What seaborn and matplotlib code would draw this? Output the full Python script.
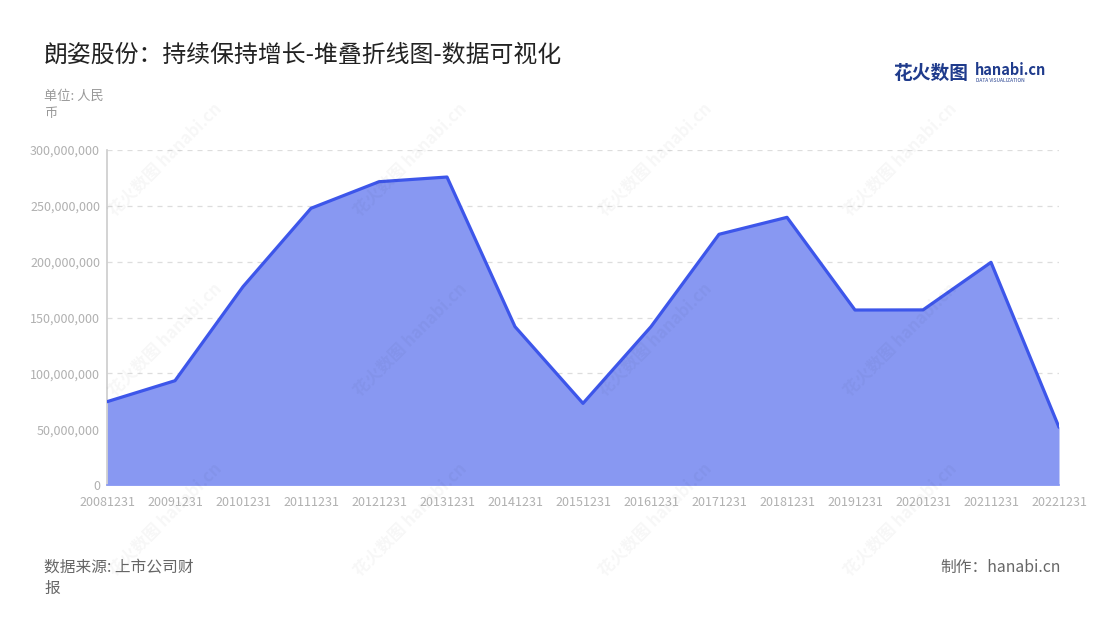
import seaborn as sns
import pandas as pd
import matplotlib.pyplot as plt

dates = ['20081231', '20091231', '20101231', '20111231', '20121231', '20131231', '20141231',
         '20151231', '20161231', '20171231', '20181231', '20191231', '20201231', '20211231', '20221231']
values = [74.6, 93.4, 177.6, 247.8, 271.6, 275.8, 141.8, 73.1, 141.8, 224.5, 239.7, 156.7, 156.8, 199.4, 51.7]
values = [v * 1e6 for v in values]

df = pd.DataFrame({'idx': range(len(dates)), 'date': dates, 'value': values})

sns.set_style("white")
plt.rcParams['font.family'] = ['Noto Sans CJK SC', 'DejaVu Sans']

fig = plt.figure(figsize=(11, 6.2), dpi=100)
ax = fig.add_axes([107 / 1100, 1 - 485 / 620, (1059 - 107) / 1100, (485 - 150) / 620])

fill_c = '#8898f2'
line_c = '#3d56ea'
ax.fill_between(df['idx'], 0, df['value'], color=fill_c, lw=0, zorder=2)
sns.lineplot(data=df, x='idx', y='value', color=line_c, lw=2.3, ax=ax, zorder=3)

ax.set_xlim(0, len(dates) - 1)
ax.set_ylim(0, 300e6)
ax.set_xticks(df['idx'])
ax.set_xticklabels(dates)
ax.set_yticks([i * 50e6 for i in range(7)])
ax.set_yticklabels([f'{int(i * 50e6):,}' for i in range(7)])
ax.set_xlabel('')
ax.set_ylabel('')
ax.tick_params(axis='x', colors='#bbbbbb', labelcolor='#b0b0b0', labelsize=9, length=5, width=1, pad=3)
ax.tick_params(axis='y', colors='#bbbbbb', labelcolor='#b0b0b0', labelsize=9, length=0, pad=5)
ax.grid(axis='y', color='#dddddd', ls=(0, (4, 4)), lw=0.9, zorder=0)
ax.set_axisbelow(True)
for s in ['top', 'right']:
    ax.spines[s].set_visible(False)
ax.spines['left'].set_color('#cccccc')
ax.spines['left'].set_linewidth(1.2)
ax.spines['bottom'].set_color('#8898f2')
ax.spines['bottom'].set_linewidth(1.2)

# watermarks
for wx in [165, 410, 655, 900]:
    for wy in [160, 340, 520]:
        fig.text(wx / 1100, 1 - wy / 620, '花火数图 hanabi.cn', rotation=45, fontsize=12,
                 color='#000000', alpha=0.035, ha='center', va='center', fontweight='bold')

fig.text(44 / 1100, 1 - 55 / 620, '朗姿股份：持续保持增长-堆叠折线图-数据可视化',
         fontsize=17.2, color='#222222', va='center', ha='left')
fig.text(44 / 1100, 1 - 96 / 620, '单位: 人民', fontsize=9.5, color='#999999', va='center')
fig.text(44 / 1100, 1 - 113 / 620, '币', fontsize=9.5, color='#999999', va='center')

fig.text(893 / 1100, 1 - 73 / 620, '花火数图', fontsize=13.5, color='#1f3b8c',
         fontweight='bold', va='center', ha='left')
fig.text(975 / 1100, 1 - 70 / 620, 'hanabi.cn', fontsize=10.5, color='#1f3b8c',
         fontweight='bold', va='center', ha='left')
fig.text(976 / 1100, 1 - 80 / 620, 'DATA VISUALIZATION', fontsize=3.5, color='#1f3b8c',
         va='center', ha='left')

fig.text(44 / 1100, 1 - 567 / 620, '数据来源: 上市公司财', fontsize=11.3, color='#666666', va='center')
fig.text(44 / 1100, 1 - 588 / 620, '报', fontsize=11.3, color='#666666', va='center')
fig.text(1061 / 1100, 1 - 567 / 620, '制作：hanabi.cn', fontsize=11.3, color='#666666',
         va='center', ha='right')

fig.savefig('out.png', dpi=100)
